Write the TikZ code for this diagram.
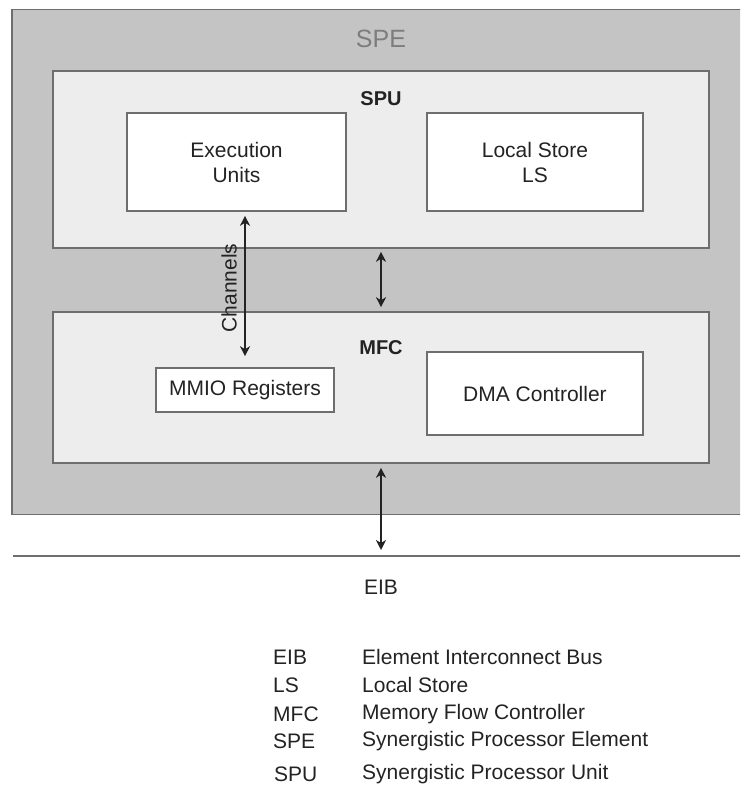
\documentclass[tikz,border=0pt]{standalone}
\usepackage{fontspec}
\setmainfont{Liberation Sans}
\usetikzlibrary{arrows.meta}
\definecolor{speGray}{RGB}{196,196,196}
\definecolor{unitGray}{RGB}{237,237,237}
\definecolor{edgeGray}{RGB}{110,110,110}
\definecolor{labelGray}{RGB}{125,125,125}
\definecolor{inkGray}{RGB}{35,35,35}
\tikzset{
    block/.style={draw=edgeGray,line width=1.6pt,inner sep=0pt},
    biarrow/.style={line width=1.5pt,color=inkGray,{Stealth[length=10pt,width=10pt,inset=3pt]}-{Stealth[length=10pt,width=10pt,inset=3pt]}},
    txt/.style={font=\fontsize{21}{25}\selectfont,text=inkGray,align=center},
    abbr/.style={font=\fontsize{21}{25}\selectfont,text=inkGray,anchor=west,inner sep=0pt}
}
\begin{document}
\begin{tikzpicture}[x=1pt,y=-1pt]
            \useasboundingbox (0,0) rectangle (740,786);
            \clip (0,0) rectangle (740,786);

            \node[block,fill=speGray,minimum width=740,minimum height=505] (SPE) at (382,262) {};
            \node[txt,text=labelGray,font=\fontsize{25}{30}\selectfont] (SPEl) at (381,39) {SPE};

            \node[block,fill=unitGray,minimum width=656,minimum height=177] (SPU) at (381,159.5) {};
            \node[txt,font=\bfseries\fontsize{20}{24}\selectfont] (SPUl) at (381,99) {SPU};
            \node[block,fill=white,minimum width=219,minimum height=98,txt] (EU) at (236.5,162) {Execution\\Units};
            \node[block,fill=white,minimum width=216,minimum height=98,txt] (LS) at (535,162) {Local Store\\LS};

            \node[block,fill=unitGray,minimum width=656,minimum height=151] (MFC) at (381,387.5) {};
            \node[txt,font=\bfseries\fontsize{20}{24}\selectfont] (MFCl) at (381,348) {MFC};
            \node[block,fill=white,minimum width=178,minimum height=44,txt] (MMIO) at (245,390) {MMIO Registers};
            \node[block,fill=white,minimum width=216,minimum height=83,txt] (DMA) at (535,393.5) {DMA Controller};

            \coordinate (EIBw) at (13,556);
            \coordinate (EIBe) at (745,556);
            \coordinate (EIBtap) at (381,556);
            \draw[edgeGray,line width=1.6pt] (EIBw) to (EIBe);
            \node[txt] (EIB) at (381,587) {EIB};

            \draw[biarrow,shorten <=4pt,shorten >=11pt] (EU.south -| MMIO.north) to (MMIO.north);
            \node[txt,rotate=90,inner sep=0pt] (CH) at (229,288) {Channels};
            \draw[biarrow,shorten <=3pt,shorten >=4pt] (SPU.south) to (MFC.north);
            \draw[biarrow,shorten <=4pt,shorten >=6pt] (MFC.south) to (EIBtap);

            \node[abbr] (k1) at (273,657) {EIB};
            \node[abbr] (k2) at (273,685) {LS};
            \node[abbr] (k3) at (273,714) {MFC};
            \node[abbr] (k4) at (273,741) {SPE};
            \node[abbr] (k5) at (274,774) {SPU};
            \node[abbr] (d1) at (362,657) {Element Interconnect Bus};
            \node[abbr] (d2) at (362,685) {Local Store};
            \node[abbr] (d3) at (362,714) {Memory Flow Controller};
            \node[abbr] (d4) at (362,741) {Synergistic Processor Element};
            \node[abbr] (d5) at (362,774) {Synergistic Processor Unit};
        \end{tikzpicture}
\end{document}
